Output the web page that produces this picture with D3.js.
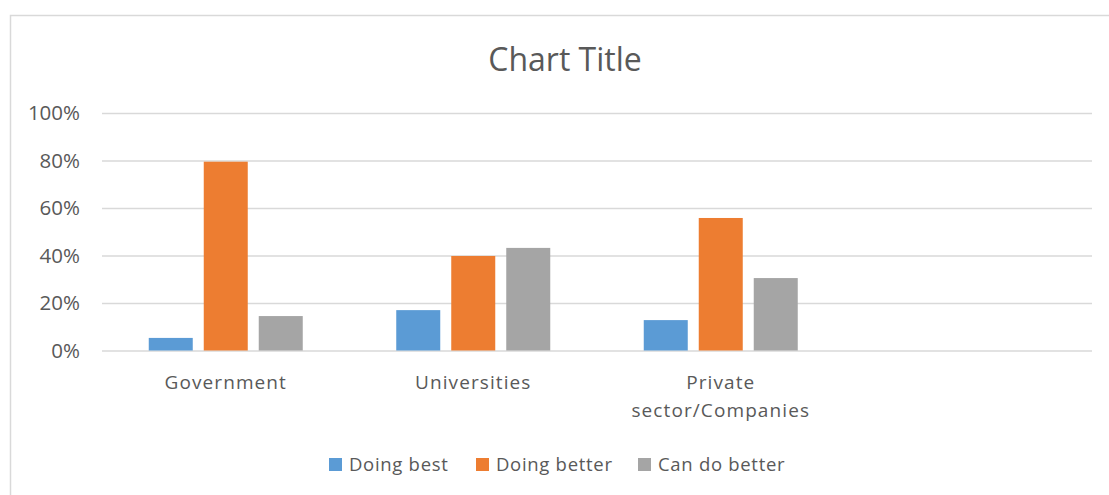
<!DOCTYPE html>
<html>
<head>
<meta charset="utf-8">
<script src="https://cdn.jsdelivr.net/npm/d3@7/dist/d3.min.js"></script>
<style>
  html, body { margin: 0; padding: 0; background: #fff; }
  svg { display: block; }
  text { font-family: "Open Sans", "DejaVu Sans", sans-serif; fill: #595959; }
</style>
</head>
<body>
<svg id="chart" width="1109" height="495"></svg>
<script>
// Survey categories (the last slot is an empty category on the axis)
const categories = ["Government", "Universities", "Private\nsector/Companies", ""];
const seriesNames = ["Doing best", "Doing better", "Can do better"];
const doingBest   = [0.053, 0.17, 0.128, null];
const doingBetter = [0.795, 0.398, 0.558, null];
const canDoBetter = [0.145, 0.432, 0.305, null];
const yTicks = [0, 0.2, 0.4, 0.6, 0.8, 1.0];
const colors = ["#5B9BD5", "#ED7D31", "#A5A5A5"];

const series = [doingBest, doingBetter, canDoBetter];

const svg = d3.select("#chart");
const W = 1109, H = 495;

// chart area border
svg.append("rect")
  .attr("x", 10.5).attr("y", 15.5)
  .attr("width", W + 20).attr("height", H + 20)
  .attr("fill", "#fff").attr("stroke", "#d9d9d9").attr("stroke-width", 1.5);

const plot = { left: 102, right: 1092, top: 113, bottom: 350.5 };

const x = d3.scaleBand()
  .domain(d3.range(categories.length))
  .range([plot.left, plot.right]);

const y = d3.scaleLinear().domain([0, 1]).range([plot.bottom, plot.top]);

// inner band for the three series
const barW = 44, barGap = 11;
const xs = d3.scaleBand()
  .domain(d3.range(series.length))
  .range([0, series.length * barW + (series.length - 1) * barGap])
  .paddingInner(barGap / (barW + barGap));

// gridlines
const yAxis = d3.axisLeft(y).tickValues(yTicks)
  .tickFormat(d3.format(".0%"))
  .tickSize(-(plot.right - plot.left)).tickPadding(22);

const gy = svg.append("g")
  .attr("transform", `translate(${plot.left},0)`)
  .call(yAxis);
gy.select(".domain").remove();
gy.selectAll(".tick line").attr("stroke", "#d9d9d9").attr("stroke-width", 1.5);
gy.selectAll(".tick text")
  .style("font-size", "20.5px").attr("fill", "#595959");

// bars
const groupW = xs.range()[1];
series.forEach((vals, si) => {
  svg.append("g").selectAll("rect")
    .data(vals.map((v, i) => ({ v, i })).filter(d => d.v != null))
    .join("rect")
    .attr("x", d => x(d.i) + x.bandwidth() / 2 - groupW / 2 + xs(si))
    .attr("width", xs.bandwidth())
    .attr("y", d => y(d.v))
    .attr("height", d => y(0) - y(d.v))
    .attr("fill", colors[si]);
});

// category labels
categories.forEach((c, i) => {
  const lines = c.split("\n");
  const t = svg.append("text")
    .attr("text-anchor", "middle")
    .style("font-size", "19px")
    .style("letter-spacing", "1.1px");
  lines.forEach((ln, k) => {
    t.append("tspan")
      .attr("x", x(i) + x.bandwidth() / 2)
      .attr("y", 389 + k * 28)
      .text(ln);
  });
});

// title
svg.append("text")
  .attr("x", 565).attr("y", 71)
  .attr("text-anchor", "middle")
  .style("font-size", "32px")
  .text("Chart Title");

// legend
const legendX = [329, 476, 638];
seriesNames.forEach((name, i) => {
  const g = svg.append("g").attr("transform", `translate(${legendX[i]},458)`);
  g.append("rect").attr("width", 13).attr("height", 13).attr("fill", colors[i]);
  g.append("text").attr("x", 20).attr("y", 12.5)
    .style("font-size", "18.5px").style("letter-spacing", "0.7px")
    .text(name);
});
</script>
</body>
</html>
